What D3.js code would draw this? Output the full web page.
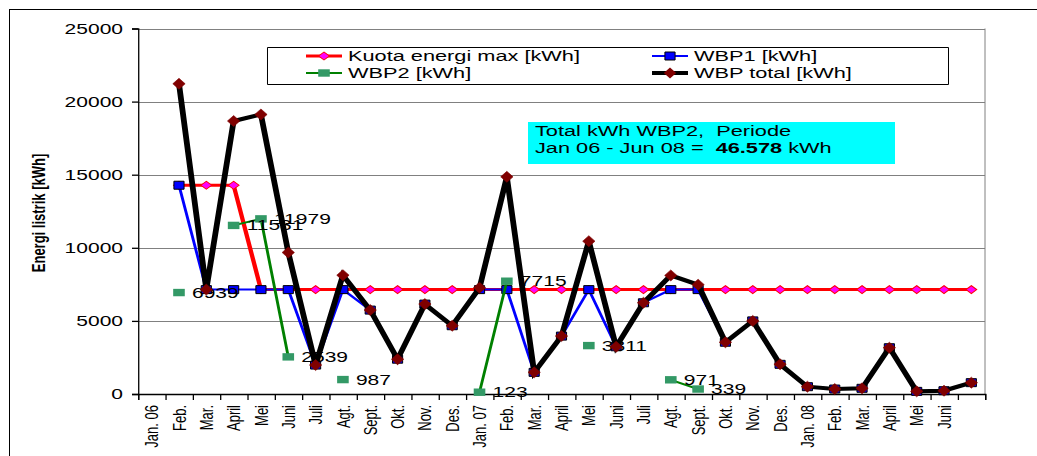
<!DOCTYPE html>
<html><head><meta charset="utf-8">
<script src="https://cdn.jsdelivr.net/npm/d3@7"></script>
<style>
html,body{margin:0;padding:0;background:#fff;}
svg text{font-family:"Liberation Sans",Arial,sans-serif;}
</style></head>
<body>
<svg id="c" width="1037" height="456"></svg>
<script>
const categories = ["Jan. 06","Feb.","Mar.","April","Mei","Juni","Juli","Agt.","Sept.","Okt.","Nov.","Des.","Jan. 07","Feb.","Mar.","April","Mei","Juni","Juli","Agt.","Sept.","Okt.","Nov.","Des.","Jan. 08","Feb.","Mar.","April","Mei","Juni",""];
const kuota = [null,14280,14280,14280,7140,7140,7140,7140,7140,7140,7140,7140,7140,7140,7140,7140,7140,7140,7140,7140,7140,7140,7140,7140,7140,7140,7140,7140,7140,7140,7140];
const wbp1 = [null,14280,7140,7140,7140,7140,1980,7140,5740,2380,6150,4670,7140,7140,1480,3960,7140,3230,6240,7140,7140,3540,5000,2030,500,340,390,3165,180,225,775];
const wbp2 = [null,6939,null,11531,11979,2539,null,987,null,null,null,null,123,7715,null,null,3311,null,null,971,339,null,null,null,null,null,null,null,null,null,null];
const total = [null,21219,7140,18671,19119,9679,1980,8127,5740,2380,6150,4670,7263,14855,1480,3960,10451,3230,6240,8111,7479,3540,5000,2030,500,340,390,3165,180,225,775];
const yTicks = [0,5000,10000,15000,20000,25000];
const legendNames = ["Kuota energi max [kWh]","WBP1 [kWh]","WBP2 [kWh]","WBP total [kWh]"];
const boxLine1 = "Total kWh WBP2,  Periode";
const boxLine2a = "Jan 06 - Jun 08 =  ";
const boxLine2b = "46.578";
const boxLine2c = " kWh";
const yTitle = "Energi listrik [kWh]";

const SX = 1.45;
const u = v => v / SX; // screen x -> unscaled units

const svg = d3.select("#c");
svg.append("rect").attr("x",9.5).attr("y",9.5).attr("width",1100).attr("height",500)
  .attr("fill","none").attr("stroke","#000").attr("stroke-width",1);

const g = svg.append("g").attr("transform",`scale(${SX},1)`);

const x = d3.scaleBand().domain(d3.range(categories.length)).range([u(138),u(985)]);
const xb = d3.scaleLinear().domain([0,categories.length]).range([u(138),u(985)]);
const y = d3.scaleLinear().domain([0,25000]).range([394,28.5]);
const cx = i => x(i) + x.bandwidth()/2;

g.append("g").selectAll("line").data(yTicks.filter(t=>t>0)).join("line")
  .attr("x1",u(138)).attr("x2",u(985)).attr("y1",d=>Math.round(y(d))+0.5).attr("y2",d=>Math.round(y(d))+0.5)
  .attr("stroke","#808080").attr("stroke-width",1).attr("vector-effect","non-scaling-stroke");
g.append("line").attr("x1",u(985)).attr("x2",u(985)).attr("y1",y(25000)).attr("y2",y(0))
  .attr("stroke","#808080").attr("vector-effect","non-scaling-stroke");

const ya = g.append("g").attr("transform",`translate(${u(138)},0)`)
  .call(d3.axisLeft(y).tickValues(yTicks).tickSize(u(6)).tickPadding(u(9)).tickFormat(d3.format("d")));
ya.selectAll("path,line").attr("stroke","#000").attr("stroke-width",1.3).attr("vector-effect","non-scaling-stroke");
ya.selectAll("text").attr("font-size",14.5).attr("fill","#000").attr("font-family","Liberation Sans, Arial");

const xa = g.append("g").attr("transform","translate(0,394)")
  .call(d3.axisBottom(xb).tickValues(d3.range(categories.length+1)).tickSize(6).tickFormat(""));
xa.selectAll("path,line").attr("stroke","#000").attr("stroke-width",1.3).attr("vector-effect","non-scaling-stroke");
const xl = g.append("g").attr("transform","translate(0,394)")
  .call(d3.axisBottom(x).tickSize(0).tickFormat(i=>categories[i]));
xl.select("path").remove();
xl.selectAll("text").attr("font-size",13).attr("fill","#000").attr("font-family","Liberation Sans, Arial")
  .attr("text-anchor","end").attr("transform","rotate(-90)").attr("x",-11).attr("y",0).attr("dy","0.35em");

g.append("text").attr("transform",`translate(${u(38)},213) rotate(-90)`)
  .attr("text-anchor","middle").attr("dy","0.35em").attr("font-size",13).attr("font-weight","bold").text(yTitle);

const line = d3.line().defined(d=>d.v!=null).x(d=>cx(d.i)).y(d=>y(d.v));
const pts = arr => arr.map((v,i)=>({i,v}));
const diamond = (w,h) => `M0,${-h/2}L${w/2},0L0,${h/2}L${-w/2},0Z`;

g.append("path").attr("d",line(pts(kuota))).attr("fill","none").attr("stroke","#FF0000").attr("stroke-width",3).attr("stroke-linejoin","round");
g.append("g").selectAll("path").data(pts(kuota).filter(d=>d.v!=null)).join("path")
  .attr("transform",d=>`translate(${cx(d.i)},${y(d.v)})`).attr("d",diamond(7.5,8))
  .attr("fill","#FF00FF").attr("stroke","#FF0000").attr("stroke-width",0.8);

g.append("path").attr("d",line(pts(wbp1))).attr("fill","none").attr("stroke","#0000FF").attr("stroke-width",2);
g.append("g").selectAll("rect").data(pts(wbp1).filter(d=>d.v!=null)).join("rect")
  .attr("x",d=>cx(d.i)-3.5).attr("y",d=>y(d.v)-4).attr("width",7).attr("height",8)
  .attr("fill","#0000FF").attr("stroke","#000").attr("stroke-width",1).attr("vector-effect","non-scaling-stroke");

g.append("path").attr("d",line(pts(wbp2))).attr("fill","none").attr("stroke","#008000").attr("stroke-width",2);
g.append("g").selectAll("rect").data(pts(wbp2).filter(d=>d.v!=null)).join("rect")
  .attr("x",d=>cx(d.i)-4).attr("y",d=>y(d.v)-3.7).attr("width",8).attr("height",7.4)
  .attr("fill","#339966");
g.append("g").selectAll("text").data(pts(wbp2).filter(d=>d.v!=null)).join("text")
  .attr("x",d=>cx(d.i)+u(13)).attr("y",d=>y(d.v)).attr("dy","0.35em")
  .attr("font-size",14.5).attr("fill","#000").text(d=>d.v);

g.append("path").attr("d",line(pts(total))).attr("fill","none").attr("stroke","#000").attr("stroke-width",4).attr("stroke-linejoin","miter");
g.append("g").selectAll("path").data(pts(total).filter(d=>d.v!=null)).join("path")
  .attr("transform",d=>`translate(${cx(d.i)},${y(d.v)})`).attr("d",diamond(8.5,11))
  .attr("fill","#800000").attr("stroke","#800000").attr("stroke-width",0.5);

const lg = g.append("g");
lg.append("rect").attr("x",u(267.5)).attr("y",47.5).attr("width",u(948-267)).attr("height",37)
  .attr("fill","#fff").attr("stroke","#000").attr("stroke-width",1).attr("vector-effect","non-scaling-stroke");
const legItems = [
  {name:legendNames[0], lx:306, ly:56, stroke:"#FF0000", sw:3, mk:"kuota"},
  {name:legendNames[1], lx:652, ly:56, stroke:"#0000FF", sw:2, mk:"wbp1"},
  {name:legendNames[2], lx:306, ly:73, stroke:"#008000", sw:2, mk:"wbp2"},
  {name:legendNames[3], lx:652, ly:73, stroke:"#000000", sw:4, mk:"total"}
];
legItems.forEach(it=>{
  const x0 = u(it.lx), x1 = u(it.lx+36), xm = (x0+x1)/2;
  lg.append("line").attr("x1",x0).attr("x2",x1).attr("y1",it.ly).attr("y2",it.ly).attr("stroke",it.stroke).attr("stroke-width",it.sw);
  if(it.mk==="kuota") lg.append("path").attr("transform",`translate(${xm},${it.ly})`).attr("d",diamond(7.5,8)).attr("fill","#FF00FF").attr("stroke","#FF0000").attr("stroke-width",0.8);
  if(it.mk==="wbp1") lg.append("rect").attr("x",xm-3.5).attr("y",it.ly-4).attr("width",7).attr("height",8).attr("fill","#0000FF").attr("stroke","#000").attr("vector-effect","non-scaling-stroke");
  if(it.mk==="wbp2") lg.append("rect").attr("x",xm-4).attr("y",it.ly-3.7).attr("width",8).attr("height",7.4).attr("fill","#339966");
  if(it.mk==="total") lg.append("path").attr("transform",`translate(${xm},${it.ly})`).attr("d",diamond(8.5,11)).attr("fill","#800000");
  lg.append("text").attr("x",u(it.lx+42)).attr("y",it.ly).attr("dy","0.35em").attr("font-size",15).attr("fill","#000").text(it.name);
});

const tb = g.append("g");
tb.append("rect").attr("x",u(528)).attr("y",122).attr("width",u(895-528)).attr("height",42).attr("fill","#00FFFF");
tb.append("text").attr("x",u(535)).attr("y",136).attr("font-size",15).attr("fill","#000").style("white-space","pre").text(boxLine1);
const t2 = tb.append("text").attr("x",u(535)).attr("y",153).attr("font-size",15).attr("fill","#000").style("white-space","pre");
t2.append("tspan").text(boxLine2a);
t2.append("tspan").attr("font-weight","bold").text(boxLine2b);
t2.append("tspan").text(boxLine2c);
</script>
</body></html>
